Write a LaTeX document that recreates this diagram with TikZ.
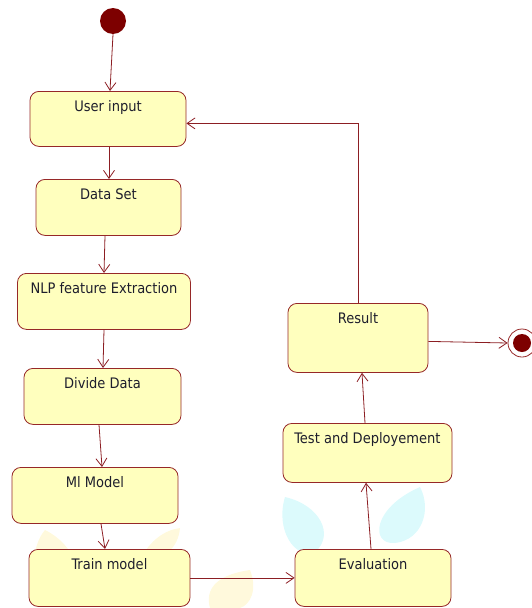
\documentclass[tikz,border=0pt]{standalone}
\usepackage{fontspec}
\setmainfont{DejaVu Sans Condensed}
\usetikzlibrary{arrows.meta,calc}
\definecolor{lnred}{RGB}{140,30,35}
\definecolor{bxred}{RGB}{150,40,40}
\definecolor{bxfill}{RGB}{255,255,190}
\definecolor{dotred}{RGB}{125,0,0}
\definecolor{txt}{RGB}{30,30,45}
\definecolor{wmcyan}{RGB}{220,250,252}
\definecolor{wmyel}{RGB}{255,249,220}
\tikzset{
  stbox/.style={draw=bxred, line width=0.8pt, fill=bxfill, rounded corners=9pt,
    inner sep=0pt, anchor=north, text height=20.5pt, font=\fontsize{14.5}{16}\selectfont, text=txt},
  flow/.style={draw=lnred, line width=0.8pt, -{Straight Barb[length=8pt,width=11pt,line width=0.8pt]}}
}
\begin{document}
\begin{tikzpicture}[x=1pt,y=-1pt]
\useasboundingbox (0,0) rectangle (531,608);
% faint watermark leaves
\fill[wmcyan] (285,497) .. controls (320,505) and (335,535) .. (315,552) .. controls (295,560) and (275,530) .. (285,497) -- cycle;
\fill[wmcyan] (420,487) .. controls (432,510) and (422,540) .. (395,543) .. controls (370,545) and (372,508) .. (420,487) -- cycle;
\fill[wmyel] (40,600) .. controls (30,575) and (32,545) .. (45,530) .. controls (75,545) and (85,575) .. (70,600) -- cycle;
\fill[wmyel] (140,560) .. controls (150,540) and (165,530) .. (180,528) .. controls (178,548) and (165,560) .. (140,560) -- cycle;
\fill[wmyel] (210,608) .. controls (205,590) and (215,575) .. (250,570) .. controls (258,590) and (250,605) .. (240,608) -- cycle;

\node[circle, fill=dotred, minimum size=26pt, inner sep=0pt] (init) at (113,21) {};

\node[stbox, minimum width=156pt, text depth=34.5pt] (ui) at (108,91) {User input};
\node[stbox, minimum width=145pt, text depth=35.5pt] (ds) at (108.5,179) {Data Set};
\node[stbox, minimum width=173pt, text depth=35.5pt] (nlp) at (104,273) {NLP feature Extraction};
\node[stbox, minimum width=157pt, text depth=35.5pt] (dd) at (102.5,368) {Divide Data};
\node[stbox, minimum width=166pt, text depth=35.5pt] (ml) at (95,467) {Ml Model};
\node[stbox, minimum width=161pt, text depth=36.5pt] (tm) at (109.5,549) {Train model};
\node[stbox, minimum width=156pt, text depth=36.5pt] (ev) at (373,549) {Evaluation};
\node[stbox, minimum width=169pt, text depth=38.5pt] (td) at (367.5,423) {Test and Deployement};
\node[stbox, minimum width=140pt, text depth=48.5pt] (res) at (358,303) {Result};

\node[circle, draw=bxred, line width=0.8pt, fill=white, minimum size=28pt, inner sep=0pt] (fin) at (522,343) {};
\node[circle, fill=dotred, minimum size=18pt, inner sep=0pt] (finin) at (fin.center) {};

\coordinate (ret) at ($(ui.east)+(0,4.5)$);

\draw[flow] (init.south) -- ($(ui.north)+(2,0)$);
\draw[flow] ($(ui.south)+(1,0)$) -- ($(ds.north)+(0.5,0)$);
\draw[flow] ($(ds.south)+(-3.5,0)$) -- (nlp.north);
\draw[flow] (nlp.south) -- ($(dd.north)+(0.5,0)$);
\draw[flow] ($(dd.south)+(-3.5,0)$) -- ($(ml.north)+(7,0)$);
\draw[flow] ($(ml.south)+(6,0)$) -- ($(tm.north)+(-4.5,0)$);
\draw[flow] (tm.east) -- (ev.west);
\draw[flow] ($(ev.north)+(-2,0)$) -- ($(td.south)+(-1.5,0)$);
\draw[flow] ($(td.north)+(-2.5,0)$) -- ($(res.south)+(4,0)$);
\draw[flow] (res.north) |- (ret);
\draw[flow] ($(res.east)+(0,3.5)$) -- (fin.west);
\end{tikzpicture}
\end{document}
